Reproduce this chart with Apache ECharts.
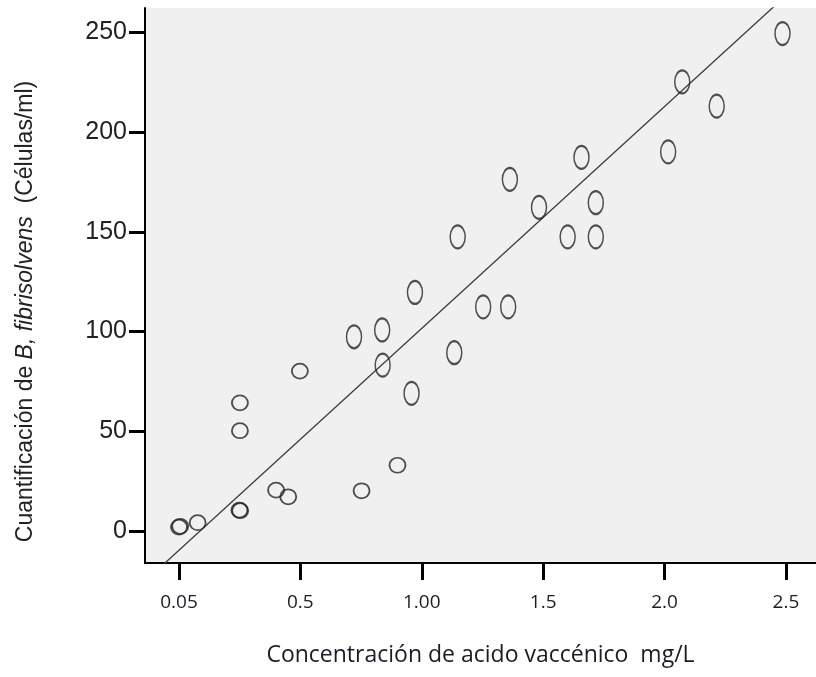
<!DOCTYPE html>
<html>
<head>
<meta charset="utf-8">
<script src="https://cdn.jsdelivr.net/npm/echarts@6/dist/echarts.min.js"></script>
<style>
  html, body { margin: 0; padding: 0; background: #ffffff; }
  #chart { width: 816px; height: 677px; }
</style>
</head>
<body>
<div id="chart"></div>
<script>
// axis ticks
const xTickValues = [0, 0.5, 1.0, 1.5, 2.0, 2.5];
const xTickLabels = ['0.05', '0.5', '1.00', '1.5', '2.0', '2.5'];
const yTickValues = [0, 50, 100, 150, 200, 250];

// points drawn as round circles (lower left)
const roundX = [0.0, 0.005, 0.077, 0.251, 0.251, 0.249, 0.252, 0.40, 0.45, 0.752, 0.90, 0.498];
const roundY = [2, 2.4, 4.2, 64.3, 50.3, 10.5, 10.2, 20.5, 17.2, 20.2, 33, 80.2];

// points drawn as tall ovals
const ovalX = [1.363, 1.658, 1.483, 1.717, 1.601, 1.717, 1.148, 0.972, 1.253, 1.356, 0.837, 0.721, 0.839, 1.134, 0.958, 2.486, 2.073, 2.215, 2.015];
const ovalY = [176.3, 187.3, 162.3, 164.6, 147.5, 147.5, 147.5, 119.6, 112.4, 112.4, 100.8, 97.4, 83.2, 89.4, 69, 249.4, 225.2, 213, 190.1];

// fitted line
const fitIntercept = -9.6;
const fitSlope = 111.2;

const xMin = -0.14, xMax = 2.624;
const yMin = -16, yMax = 262.2;

const chart = echarts.init(document.getElementById('chart'));

const zip = (xs, ys) => xs.map((x, i) => [x, ys[i]]);
const fitLine = [xMin, xMax].map(x => [x, fitIntercept + fitSlope * x]);

const markerStyle = {
  color: 'rgba(0,0,0,0)',
  borderColor: '#262626',
  borderWidth: 1.8
};

const option = {
  animation: false,
  grid: {
    left: 145,
    right: 0,
    top: 8,
    bottom: 114,
    show: true,
    backgroundColor: '#f0f0f0',
    borderWidth: 0
  },
  xAxis: {
    type: 'value',
    min: xMin,
    max: xMax,
    name: 'Concentración de acido vaccénico  mg/L',
    nameLocation: 'middle',
    nameGap: 81,
    nameTextStyle: { fontFamily: 'Open Sans', fontSize: 23, color: '#1c1c28' },
    splitLine: { show: false },
    axisLine: { show: true, onZero: false, lineStyle: { color: '#000', width: 2 } },
    axisTick: { show: true, length: 17, lineStyle: { color: '#000', width: 3 }, customValues: xTickValues },
    axisLabel: {
      customValues: xTickValues,
      margin: 30,
      fontFamily: 'Open Sans',
      fontSize: 19,
      color: '#1c1c28',
      formatter: (v) => {
        const i = xTickValues.findIndex(t => Math.abs(t - v) < 1e-6);
        return i >= 0 ? xTickLabels[i] : '';
      }
    }
  },
  yAxis: {
    type: 'value',
    min: yMin,
    max: yMax,
    name: '{n|Cuantificación de }{i|B, fibrisolvens}{n|  (Células/ml)}',
    nameLocation: 'middle',
    nameGap: 108,
    nameTextStyle: {
      padding: [0, 52, 0, 0],
      rich: {
        n: { fontFamily: 'Liberation Sans', fontSize: 23, color: '#222' },
        i: { fontFamily: 'Liberation Sans', fontSize: 23, fontStyle: 'italic', color: '#222' }
      }
    },
    splitLine: { show: false },
    axisLine: { show: true, onZero: false, lineStyle: { color: '#000', width: 2 } },
    axisTick: { show: true, length: 16, lineStyle: { color: '#000', width: 3 }, customValues: yTickValues },
    axisLabel: {
      customValues: yTickValues,
      margin: 18,
      padding: [5, 0, 0, 0],
      fontFamily: 'Liberation Sans',
      fontSize: 25,
      color: '#222'
    }
  },
  series: [
    {
      type: 'line',
      data: fitLine,
      symbol: 'none',
      clip: true,
      lineStyle: { color: '#3a3a3a', width: 1.3 },
      z: 1
    },
    {
      type: 'scatter',
      data: zip(roundX, roundY),
      symbol: 'circle',
      symbolSize: [16, 15],
      itemStyle: markerStyle,
      z: 2
    },
    {
      type: 'scatter',
      data: zip(ovalX, ovalY),
      symbol: 'circle',
      symbolSize: [15, 23],
      itemStyle: markerStyle,
      z: 2
    }
  ]
};

chart.setOption(option);
window.addEventListener('resize', () => chart.resize());
</script>
</body>
</html>
